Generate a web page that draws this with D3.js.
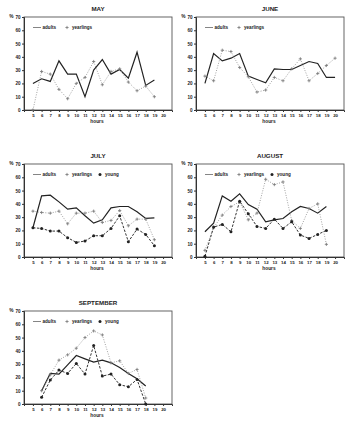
<!DOCTYPE html>
<html><head><meta charset="utf-8">
<script src="https://cdn.jsdelivr.net/npm/d3@7"></script>
<style>
body{margin:0;background:#fff;}
svg{display:block;}
text{font-family:"Liberation Sans",Arial,sans-serif;fill:#222;}
</style></head>
<body><svg id="c" width="359" height="425"></svg>
<script>
const months = ["MAY","JUNE","JULY","AUGUST","SEPTEMBER"];
const xTicks = [5,6,7,8,9,10,11,12,13,14,15,16,17,18,19,20];
const yTicks = [0,10,20,30,40,50,60,70];

const mayHours = [5,6,7,8,9,10,11,12,13,14,15,16,17,18,19];
const mayAdults = [20,23.5,21.5,37,27,27,10,30,38,27,30.5,24,43.5,18.5,22.5];
const mayYearlings = [0,29,27,15.5,8.5,20,24.5,36.5,19,29,31,21,14.5,18,10];

const juneHours = [5,6,7,8,9,10,11,12,13,14,15,16,17,18,19,20];
const juneAdults = [20,42.5,37,39,42.5,25.5,23,20.5,31,30.5,30.5,33.5,36.5,35,24.5,24.5];
const juneYearlings = [25.5,22,45,44,32,25,13.5,15,24.5,22,31,38.5,22,27.5,33.5,39];

const julyHours = [5,6,7,8,9,10,11,12,13,14,15,16,17,18,19];
const julyAdults = [22,46,46.5,41.5,36,37,31,25.5,28,37,38,38,34,29,29.5];
const julyYearlings = [34.5,33.5,33,34.5,25,33,33,34.5,26,27.5,35,23.5,28.5,28.5,13];
const julyYoung = [22,21.5,19.5,19.5,14.5,11,12,16,16,21.5,31,11.5,21,17,8.5];

const augHours = [5,6,7,8,9,10,11,12,13,14,15,16,17,18,19];
const augAdults = [19,25.5,46,42,47.5,39.5,36,26.5,28,29,34,38,36.5,33,38];
const augYearlings = [5,22,31.5,38,41.5,28,33,58.5,54.5,56.5,27.5,21.5,36.5,40,9.5];
const augYoung = [0.5,22.5,24.5,19,42,32.5,23,21.5,28.5,21.5,26.5,16.5,14,17,20];

const sepHours = [6,7,8,9,10,11,12,13,14,15,16,17,18];
const sepAdults = [10,23,22.5,29.5,36.5,34,31.5,33,31,27.5,23,19,13.5];
const sepYearlings = [10,22,33,37,42,50,55,52,31,32.5,23,26,4.5];
const sepYoung = [5,18,25.5,23,30.5,22.5,44,21,22.5,14.5,13,18.5,0];

const seriesNames = ["adults","yearlings","young"];

const panels = [
  {title:months[0], left:24, top:17, hours:mayHours, series:[mayAdults,mayYearlings]},
  {title:months[1], left:196, top:17, hours:juneHours, series:[juneAdults,juneYearlings]},
  {title:months[2], left:24, top:164, hours:julyHours, series:[julyAdults,julyYearlings,julyYoung]},
  {title:months[3], left:196, top:164, hours:augHours, series:[augAdults,augYearlings,augYoung]},
  {title:months[4], left:24, top:311, hours:sepHours, series:[sepAdults,sepYearlings,sepYoung]}
];
const W = 148, H = 93;
const styles = [
  {stroke:"#222", width:1.2, dash:null},
  {stroke:"#8a8a8a", width:0.8, dash:"1,1.5"},
  {stroke:"#333", width:1, dash:"2.5,1.5"}
];

const svg = d3.select("#c");

function marker(g, type, x, y){
  if(type===1){
    g.append("path").attr("d",`M${x-1.6},${y}H${x+1.6}M${x},${y-1.6}V${y+1.6}`)
      .attr("stroke","#777").attr("stroke-width",0.8);
  } else if(type===2){
    g.append("circle").attr("cx",x).attr("cy",y).attr("r",1.5).attr("fill","#222");
  }
}

panels.forEach(p=>{
  const g = svg.append("g").attr("transform",`translate(${p.left},${p.top})`);
  const x = d3.scaleLinear().domain([3.97,21.03]).range([0,W]);
  const y = d3.scaleLinear().domain([0,70]).range([H,0]);

  g.append("rect").attr("width",W).attr("height",H).attr("fill","none")
    .attr("stroke","#555").attr("stroke-width",0.9);

  const ya = g.append("g").call(d3.axisLeft(y).tickValues(yTicks).tickSize(2).tickPadding(1.5));
  ya.select(".domain").attr("stroke","#333");
  ya.selectAll("line").attr("stroke","#333");
  ya.selectAll("text").attr("font-size",4.6).attr("font-weight","bold").attr("fill","#222");

  const xa = g.append("g").attr("transform",`translate(0,${H})`)
    .call(d3.axisBottom(x).tickValues(xTicks).tickSize(2).tickPadding(1.5));
  xa.select(".domain").attr("stroke","#333");
  xa.selectAll("line").attr("stroke","#333");
  xa.selectAll("text").attr("font-size",4.4).attr("font-weight","bold").attr("fill","#222");

  g.append("text").attr("x",-10.5).attr("y",0.5).attr("text-anchor","end")
    .attr("font-size",4.8).attr("font-weight","bold").text("%");
  g.append("text").attr("x",W/2).attr("y",-6.5).attr("text-anchor","middle")
    .attr("font-size",6.2).attr("font-weight","bold").text(p.title);
  g.append("text").attr("x",W/2 - 1).attr("y",H+12.5).attr("text-anchor","middle")
    .attr("font-size",4.8).attr("font-weight","bold").text("hours");

  p.series.forEach((vals,i)=>{
    const data = p.hours.map((h,k)=>[h,vals[k]]);
    const line = d3.line().x(d=>x(d[0])).y(d=>y(d[1]));
    g.append("path").datum(data).attr("d",line).attr("fill","none")
      .attr("stroke",styles[i].stroke).attr("stroke-width",styles[i].width)
      .attr("stroke-dasharray",styles[i].dash);
    data.forEach(d=>marker(g,i,x(d[0]),y(d[1])));
  });

  // legend
  const ly = 10.5;
  const lx = [9, 43, 76];
  p.series.forEach((v,i)=>{
    if(i===0){
      g.append("line").attr("x1",lx[0]).attr("x2",lx[0]+8).attr("y1",ly).attr("y2",ly)
        .attr("stroke","#666").attr("stroke-width",0.8);
      g.append("text").attr("x",lx[0]+9.5).attr("y",ly+1.7).attr("font-size",4.6).attr("font-weight","bold").text(seriesNames[0]);
    } else {
      marker(g,i,lx[i],ly);
      g.append("text").attr("x",lx[i]+5).attr("y",ly+1.7).attr("font-size",4.6).attr("font-weight","bold").text(seriesNames[i]);
    }
  });
});
</script></body></html>
